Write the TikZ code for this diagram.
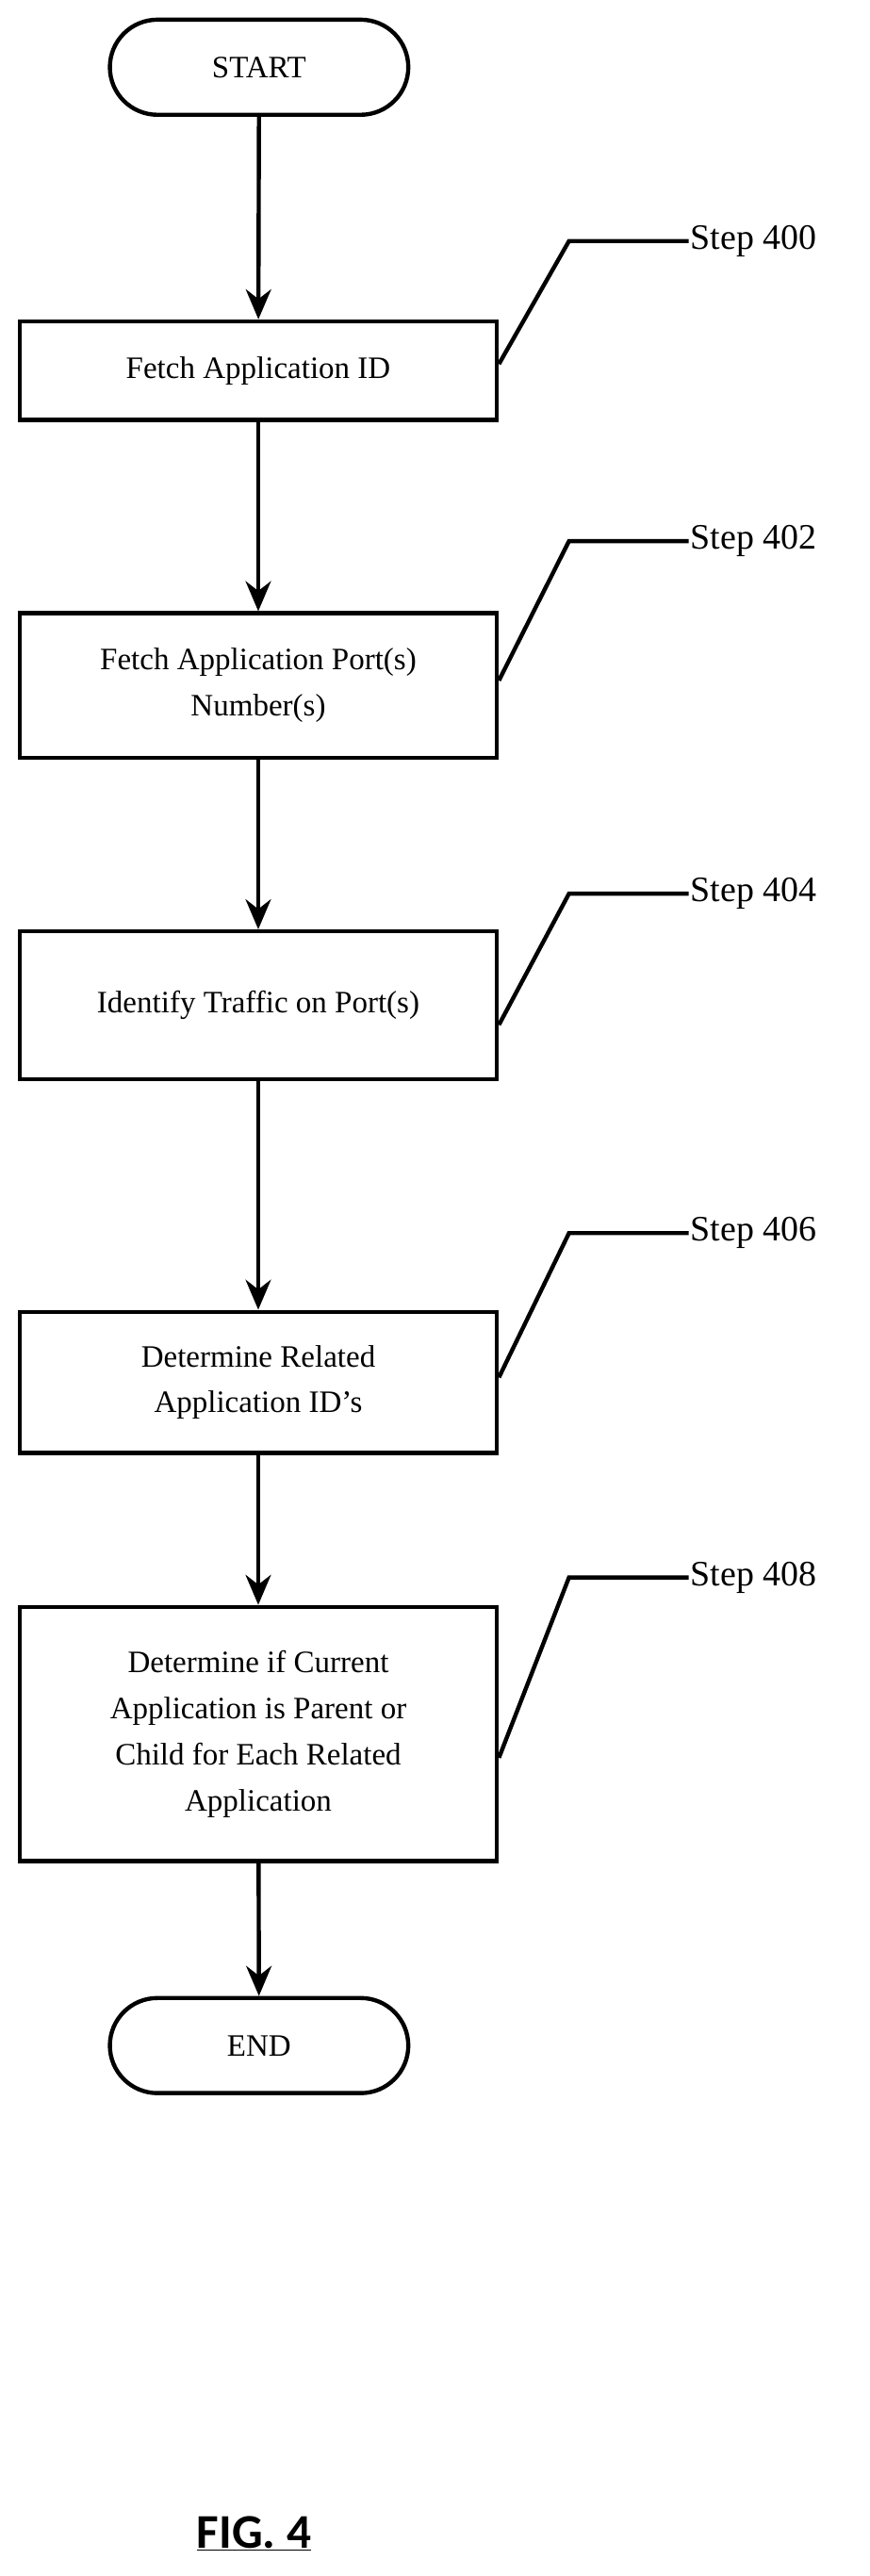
\documentclass[tikz,border=0pt]{standalone}
\usepackage{fontspec}
\setmainfont{Liberation Serif}
\newfontfamily\figfont{Carlito}
\usetikzlibrary{arrows.meta}
\begin{document}
\begin{tikzpicture}[x=0.05cm,y=-0.05cm,
  line width=3.6pt,
  box/.style={draw,rectangle,minimum width=291*0.05cm,align=center,font=\fontsize{27}{40}\selectfont,inner sep=0pt},
  term/.style={draw,rectangle,rounded corners=29*0.05cm,minimum width=182*0.05cm,minimum height=58*0.05cm,font=\fontsize{27}{32}\selectfont},
  arr/.style={-{Stealth[length=26pt,width=22pt]}},
  lead/.style={line width=3.6pt},
  steplbl/.style={anchor=west,font=\fontsize{31}{36}\selectfont,inner sep=0pt}]
\useasboundingbox (0,0) rectangle (530,1571);
\node[term] (start) at (158,41) {START};
\node[box,minimum height=60*0.05cm] (b1) at (157.5,226) {Fetch Application ID};
\node[box,minimum height=88*0.05cm] (b2) at (157.5,418) {Fetch Application Port(s)\\Number(s)};
\node[box,minimum height=90*0.05cm] (b3) at (157.5,613) {Identify Traffic on Port(s)};
\node[box,minimum height=86*0.05cm] (b4) at (157.5,843) {Determine Related\\Application ID’s};
\node[box,minimum height=155*0.05cm] (b5) at (157.5,1057.5) {Determine if Current\\Application is Parent or\\Child for Each Related\\Application};
\node[term] (end) at (158,1247.5) {END};
\draw[arr] (start) -- (b1);
\draw[arr] (b1) -- (b2);
\draw[arr] (b2) -- (b3);
\draw[arr] (b3) -- (b4);
\draw[arr] (b4) -- (b5);
\draw[arr] (b5) -- (end);
\node[steplbl] (s0) at (420,147) {Step 400};
\node[steplbl] (s2) at (420,330) {Step 402};
\node[steplbl] (s4) at (420,545) {Step 404};
\node[steplbl] (s6) at (420,752) {Step 406};
\node[steplbl] (s8) at (420,962) {Step 408};
\draw[lead] (b1.east |- 0,222) -- (347,147) -- (s0.west);
\draw[lead] (b2.east |- 0,415) -- (347,330) -- (s2.west);
\draw[lead] (b3.east |- 0,625) -- (347,545) -- (s4.west);
\draw[lead] (b4.east |- 0,840) -- (347,752) -- (s6.west);
\draw[lead] (b5.east |- 0,1072) -- (347,962) -- (s8.west);
\node[font=\figfont\bfseries\fontsize{42}{48}\selectfont] (fig) at (155,1545) {\underline{FIG. 4}};
\end{tikzpicture}
\end{document}
